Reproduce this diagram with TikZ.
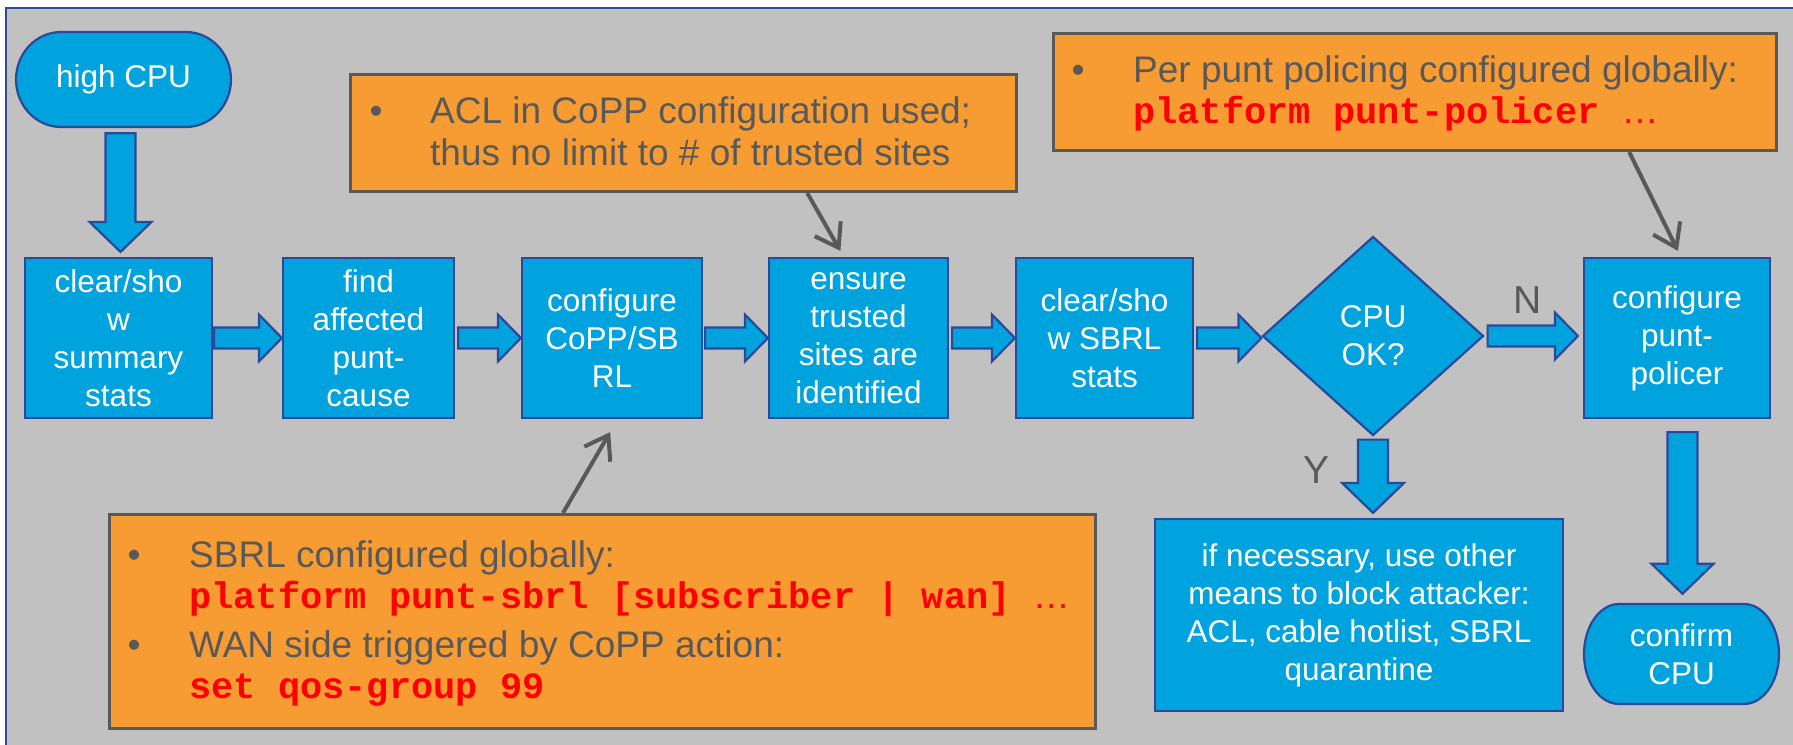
\documentclass[tikz,border=0pt]{standalone}
\usepackage{fontspec}
\setmainfont{Liberation Sans}
\setmonofont{Liberation Mono}
\usetikzlibrary{calc,arrows.meta,shapes.geometric}

\definecolor{bggray}{RGB}{193,193,193}
\definecolor{frameblue}{RGB}{45,75,150}
\definecolor{boxblue}{RGB}{0,163,221}
\definecolor{edgeblue}{RGB}{44,72,155}
\definecolor{calloutorange}{RGB}{247,155,51}
\definecolor{darkgray}{RGB}{89,89,89}
\definecolor{codered}{RGB}{255,0,0}

\tikzset{
  stepbox/.style={draw=edgeblue, line width=2.2pt, fill=boxblue, text=white, align=center,
    inner sep=0pt, font=\fontsize{31.5}{38}\selectfont},
  stadiumtext/.style={text=white, align=center, inner sep=0pt, font=\fontsize{31.5}{38}\selectfont},
  callout/.style={draw=darkgray, line width=3pt, fill=calloutorange, inner sep=0pt, anchor=north west},
  ctext/.style={text=darkgray, inner sep=0pt, anchor=base west, font=\fontsize{37}{42}\selectfont},
  ccode/.style={text=codered, inner sep=0pt, anchor=base west, font=\fontsize{37}{42}\selectfont\ttfamily\bfseries},
  fat/.style={draw=edgeblue, line width=2.2pt, fill=boxblue, line join=miter},
  pointer/.style={draw=darkgray, line width=4pt, -{Straight Barb[length=22pt,width=30pt]}},
  yn/.style={text=darkgray, inner sep=0pt, anchor=base west, font=\fontsize{39}{42}\selectfont},
}

\newcommand\hfat[2]{\draw[fat] let \p1=(#1), \p2=(#2) in
  (\x1,\y1+10.5pt) -- (\x2-23pt,\y1+10.5pt) -- (\x2-23pt,\y1+23.5pt) -- (\x2,\y1)
  -- (\x2-23pt,\y1-23.5pt) -- (\x2-23pt,\y1-10.5pt) -- (\x1,\y1-10.5pt) -- cycle;}
\newcommand\vfat[2]{\draw[fat] let \p1=(#1), \p2=(#2) in
  (\x1-15pt,\y1) -- (\x1-15pt,\y2+30pt) -- (\x1-31pt,\y2+30pt) -- (\x1,\y2)
  -- (\x1+31pt,\y2+30pt) -- (\x1+15pt,\y2+30pt) -- (\x1+15pt,\y1) -- cycle;}

\begin{document}
\begin{tikzpicture}[x=1pt,y=-1pt]
\useasboundingbox (0,0) rectangle (1793,744);
\clip (0,0) rectangle (1793,744);
\fill[white] (0,0) rectangle (1793,744);
\draw[frameblue, line width=2.5pt, fill=bggray] (6,8) rectangle (1815,765);

% stadium shapes
\draw[fat] (61,32) -- (186,32) arc[start angle=90,end angle=-90,x radius=45pt,y radius=47.5pt]
  -- (61,127) arc[start angle=270,end angle=90,x radius=45pt,y radius=47.5pt] -- cycle;
\draw[fat] (1619,604) -- (1744,604) arc[start angle=90,end angle=-90,x radius=35pt,y radius=50pt]
  -- (1619,704) arc[start angle=270,end angle=90,x radius=35pt,y radius=50pt] -- cycle;
\node[stadiumtext, minimum width=215pt, minimum height=95pt] (high) at (123.5,79.5) {high CPU};
\node[stadiumtext, minimum width=195pt, minimum height=100pt] (conf) at (1681.5,654) {confirm\\CPU};

% process boxes
\node[stepbox, minimum width=187pt, minimum height=160pt] (b1) at (118.5,338) {clear/sho\\w\\summary\\stats};
\node[stepbox, minimum width=171pt, minimum height=160pt] (b2) at (368.5,338) {find\\affected\\punt-\\cause};
\node[stepbox, minimum width=180pt, minimum height=160pt] (b3) at (612,338) {configure\\CoPP/SB\\RL};
\node[stepbox, minimum width=179pt, minimum height=160pt] (b4) at (858.5,338) {ensure\\trusted\\sites are\\identified};
\node[stepbox, minimum width=177pt, minimum height=160pt] (b5) at (1104.5,338) {clear/sho\\w SBRL\\stats};
\node[stepbox, diamond, minimum width=221pt, minimum height=199pt] (dec) at (1373,336) {CPU\\OK?};
\node[stepbox, minimum width=186pt, minimum height=160pt] (b6) at (1677,338) {configure\\punt-\\policer};
\node[stepbox, minimum width=408pt, minimum height=192pt] (ifb) at (1359,615)
  {if necessary, use other\\means to block attacker:\\ACL, cable hotlist, SBRL\\quarantine};

% block arrows
\vfat{$(high.south)+(-3pt,-6pt)$}{$(b1.north)+(1.5pt,5pt)$}
\hfat{$(b1.east)+(1pt,0pt)$}{b2.west}
\hfat{$(b2.east)+(3pt,0pt)$}{b3.west}
\hfat{$(b3.east)+(2pt,0pt)$}{b4.west}
\hfat{$(b4.east)+(3pt,0pt)$}{b5.west}
\hfat{$(b5.east)+(3pt,0pt)$}{dec.west}
\hfat{$(dec.east)+(3pt,0pt)$}{$(b6.west)+(-5pt,0pt)$}
\vfat{$(dec.south)+(0pt,-3pt)$}{$(ifb.north)+(0pt,5pt)$}
\vfat{$(b6.south)+(5.5pt,-13pt)$}{$(conf.north)+(0pt,10pt)$}

\node[yn] (nlab) at (1513,313) {N};
\node[yn] (ylab) at (1303,483) {Y};

% callouts
\node[callout, minimum width=666pt, minimum height=117pt] (acl) at (349,73) {};
\node[ctext] (aclb) at (369.5,123) {•};
\node[ctext] (acl1) at (430,123) {ACL in CoPP configuration used;};
\node[ctext] (acl2) at (430,165) {thus no limit to \# of trusted sites};

\node[callout, minimum width=723pt, minimum height=117pt] (per) at (1052,32) {};
\node[ctext] (perb) at (1071.5,82) {•};
\node[ctext] (per1) at (1133,82) {Per punt policing configured globally:};
\node[ccode] (per2) at (1133,123) {platform punt-policer {\normalfont …}};

\node[callout, minimum width=986pt, minimum height=214pt] (sbrl) at (108,513) {};
\node[ctext] (sbrlb1) at (127.5,567) {•};
\node[ctext] (sbrl1) at (189,567) {SBRL configured globally:};
\node[ccode] (sbrl2) at (189,608) {platform punt-sbrl [subscriber | wan] {\normalfont …}};
\node[ctext] (sbrlb2) at (127.5,657) {•};
\node[ctext] (sbrl3) at (189,657) {WAN side triggered by CoPP action:};
\node[ccode] (sbrl4) at (189,698) {set qos-group 99};

% pointers
\draw[pointer] ($(acl.south west)!0.685!(acl.south east)$) -- ($(b4.north west)!0.40!(b4.north east)+(0pt,6pt)$);
\draw[pointer] ($(per.south west)!0.795!(per.south east)$) -- ($(b6.north west)!0.505!(b6.north east)+(0pt,6pt)$);
\draw[pointer] ($(sbrl.north west)!0.46!(sbrl.north east)$) -- ($(b3.south west)!0.49!(b3.south east)+(0pt,-13pt)$);
\end{tikzpicture}
\end{document}
